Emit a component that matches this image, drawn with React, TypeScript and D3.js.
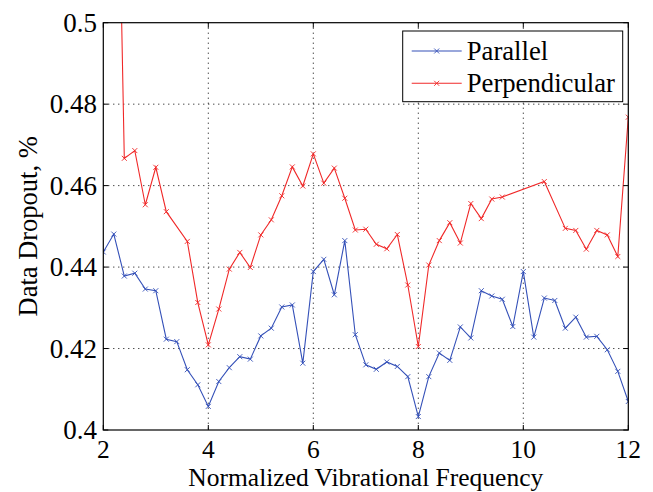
import React from "react";
import * as d3 from "d3";

const blueX = [2.0, 2.2, 2.4, 2.6, 2.8, 3.0, 3.2, 3.4, 3.6, 3.8, 4.0, 4.2, 4.4, 4.6, 4.8, 5.0, 5.2, 5.4, 5.6, 5.8, 6.0, 6.2, 6.4, 6.6, 6.8, 7.0, 7.2, 7.4, 7.6, 7.8, 8.0, 8.2, 8.4, 8.6, 8.8, 9.0, 9.2, 9.4, 9.6, 9.8, 10.0, 10.2, 10.4, 10.6, 10.8, 11.0, 11.2, 11.4, 11.6, 11.8, 12.0];
const blueY = [0.4437, 0.4481, 0.4378, 0.4385, 0.4346, 0.4342, 0.4223, 0.4217, 0.4148, 0.4111, 0.4058, 0.4119, 0.4153, 0.418, 0.4174, 0.4231, 0.425, 0.4302, 0.4307, 0.4164, 0.4389, 0.4419, 0.4332, 0.4465, 0.4234, 0.416, 0.4149, 0.4167, 0.4156, 0.4131, 0.4033, 0.4131, 0.4189, 0.4171, 0.4253, 0.4226, 0.4342, 0.4329, 0.4321, 0.4254, 0.4389, 0.4228, 0.4324, 0.4318, 0.425, 0.4277, 0.4228, 0.423, 0.4197, 0.4144, 0.407];
const redX = [2.2, 2.4, 2.6, 2.8, 3.0, 3.2, 3.6, 3.8, 4.0, 4.2, 4.4, 4.6, 4.8, 5.0, 5.2, 5.4, 5.6, 5.8, 6.0, 6.2, 6.4, 6.6, 6.8, 7.0, 7.2, 7.4, 7.6, 7.8, 8.0, 8.2, 8.4, 8.6, 8.8, 9.0, 9.2, 9.4, 9.6, 10.4, 10.8, 11.0, 11.2, 11.4, 11.6, 11.8, 12.0];
const redY = [0.6, 0.4667, 0.4686, 0.4553, 0.4645, 0.4536, 0.4463, 0.4313, 0.4209, 0.4297, 0.4395, 0.4436, 0.4399, 0.4479, 0.4516, 0.4575, 0.4646, 0.4599, 0.4678, 0.4606, 0.4643, 0.4569, 0.4491, 0.4493, 0.4456, 0.4445, 0.448, 0.4356, 0.4205, 0.4405, 0.4465, 0.4509, 0.4459, 0.4556, 0.4519, 0.4567, 0.4572, 0.461, 0.4495, 0.449, 0.4444, 0.449, 0.4479, 0.4426, 0.4768];
const xTicks = [2, 4, 6, 8, 10, 12];
const yTicks = [0.4, 0.42, 0.44, 0.46, 0.48, 0.5];
const yTickLabels = ["0.4", "0.42", "0.44", "0.46", "0.48", "0.5"];
const seriesNames = ["Parallel", "Perpendicular"];

const BLUE = "#3450b8";
const RED = "#f02828";
const FONT = "'Liberation Serif', 'Times New Roman', serif";

export default function App() {
  const W = 653, H = 492;
  const L = 103.3, R = 628.3, T = 22.7, B = 430;
  const x = d3.scaleLinear().domain([2, 12]).range([L, R]);
  const y = d3.scaleLinear().domain([0.4, 0.5]).range([B, T]);
  const line = d3.line<[number, number]>().x(d => x(d[0])).y(d => y(d[1]));
  const blue: [number, number][] = blueX.map((v, i) => [v, blueY[i]]);
  const red: [number, number][] = redX.map((v, i) => [v, redY[i]]);
  const tk = 5;
  const mk = (cx: number, cy: number, c: string, key: string) => (
    <path key={key} d={`M${cx - 2.5},${cy - 2.5}L${cx + 2.5},${cy + 2.5}M${cx - 2.5},${cy + 2.5}L${cx + 2.5},${cy - 2.5}`} stroke={c} strokeWidth={0.9} fill="none" />
  );
  const series = [
    { data: blue, color: BLUE },
    { data: red, color: RED },
  ];
  return (
    <svg width={W} height={H} style={{ position: "absolute", left: 0, top: 0, background: "#fff" }} fontFamily={FONT}>
      <defs>
        <clipPath id="plotclip">
          <rect x={L} y={T} width={R - L} height={B - T} />
        </clipPath>
      </defs>
      <rect x={0} y={0} width={W} height={H} fill="#fff" />
      {xTicks.slice(1, -1).map(t => (
        <line key={"gx" + t} x1={x(t)} x2={x(t)} y1={T} y2={B} stroke="#000" strokeWidth={1} strokeDasharray="1,4" />
      ))}
      {yTicks.slice(1, -1).map(t => (
        <line key={"gy" + t} x1={L} x2={R} y1={y(t)} y2={y(t)} stroke="#000" strokeWidth={1} strokeDasharray="1,4" />
      ))}
      <g clipPath="url(#plotclip)">
        {series.map((s, si) => (
          <g key={"s" + si}>
            <path d={line(s.data) || ""} fill="none" stroke={s.color} strokeWidth={1.1} />
            {s.data.map((d, i) => mk(x(d[0]), y(d[1]), s.color, "m" + si + "-" + i))}
          </g>
        ))}
      </g>
      <rect x={L} y={T} width={R - L} height={B - T} fill="none" stroke="#000" strokeWidth={1.2} />
      {xTicks.map(t => (
        <g key={"xt" + t}>
          <line x1={x(t)} x2={x(t)} y1={B} y2={B - tk} stroke="#000" />
          <line x1={x(t)} x2={x(t)} y1={T} y2={T + tk} stroke="#000" />
          <text x={x(t)} y={458} fontSize={25.5} textAnchor="middle" fill="#000">{t}</text>
        </g>
      ))}
      {yTicks.map((t, i) => (
        <g key={"yt" + t}>
          <line x1={L} x2={L + tk} y1={y(t)} y2={y(t)} stroke="#000" />
          <line x1={R} x2={R - tk} y1={y(t)} y2={y(t)} stroke="#000" />
          <text x={97} y={y(t) + 9} fontSize={27} textAnchor="end" fill="#000">{yTickLabels[i]}</text>
        </g>
      ))}
      <text x={(L + R) / 2} y={486} fontSize={25.5} textAnchor="middle" fill="#000">Normalized Vibrational Frequency</text>
      <text transform={`translate(37,${(T + B) / 2}) rotate(-90)`} fontSize={26.5} textAnchor="middle" fill="#000">Data Dropout, %</text>
      <rect x={402.7} y={31} width={220} height={70.7} fill="#fff" stroke="#000" strokeWidth={1} />
      {seriesNames.map((n, i) => {
        const ly = 51 + i * 32.3;
        const c = series[i].color;
        return (
          <g key={"lg" + i}>
            <line x1={411.7} x2={461.7} y1={ly} y2={ly} stroke={c} strokeWidth={1.1} />
            {mk(436.7, ly, c, "lm" + i)}
            <text x={466.7} y={ly + 9} fontSize={26.7} fill="#000">{n}</text>
          </g>
        );
      })}
    </svg>
  );
}
